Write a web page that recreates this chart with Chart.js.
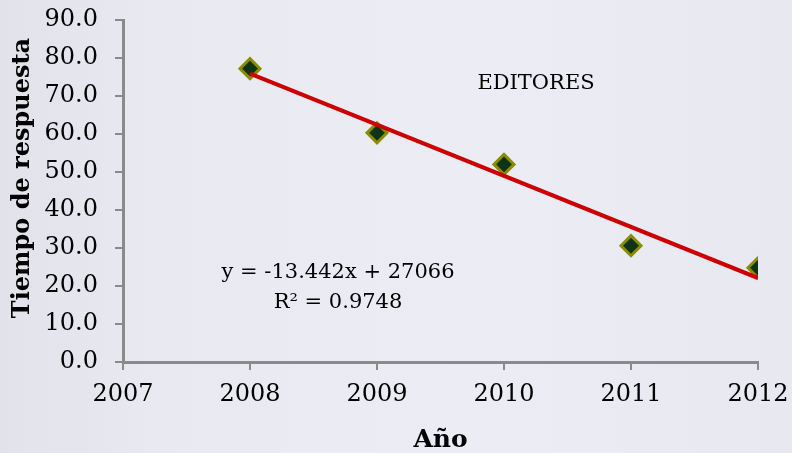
<!DOCTYPE html>
<html>
<head>
<meta charset="utf-8">
<script src="https://cdn.jsdelivr.net/npm/chart.js@4.4.1/dist/chart.umd.min.js"></script>
<style>
html,body{margin:0;padding:0;background:#e9e9f2;}
#wrap{width:792px;height:453px;background:linear-gradient(90deg,#e2e2ea 0%,#e9e9f2 20%,#ececf5 60%,#e8e8f1 100%);}
canvas{display:block;}
</style>
</head>
<body>
<div id="wrap"><canvas id="c" width="792" height="453"></canvas></div>
<script>
// Data
const years = [2008, 2009, 2010, 2011, 2012];
const tiempos = [77.2, 60.3, 52.0, 30.6, 24.8];
const trendYears = [2008, 2012];
const trendValues = [75.9, 22.1];
const xTicks = [2007, 2008, 2009, 2010, 2011, 2012];
const yTicks = [0, 10, 20, 30, 40, 50, 60, 70, 80, 90];
const seriesLabel = "EDITORES";
const equationText = "y = -13.442x + 27066";
const r2Text = "R² = 0.9748";
const xTitle = "Año";
const yTitle = "Tiempo de respuesta";

const axisColor = "#8a8a8a";
const serif = "'DejaVu Serif', serif";

const textPlugin = {
  id: 'texts',
  afterDraw(chart) {
    const ctx = chart.ctx;
    const ca = chart.chartArea;
    ctx.save();
    ctx.fillStyle = "#000";
    // y title
    ctx.save();
    ctx.translate(23, 178);
    ctx.rotate(-Math.PI / 2);
    ctx.font = "bold 24px " + serif;
    ctx.textAlign = "center";
    ctx.textBaseline = "middle";
    ctx.fillText(yTitle, 0, 0);
    ctx.restore();
    // x title
    ctx.font = "bold 25px " + serif;
    ctx.textAlign = "center";
    ctx.textBaseline = "alphabetic";
    ctx.fillText(xTitle, (ca.left + ca.right) / 2, 447);
    // series label
    ctx.font = "21px " + serif;
    ctx.fillText(seriesLabel, 536, 89);
    // equation
    ctx.font = "21px " + serif;
    ctx.fillText(equationText, 338, 278);
    ctx.fillText(r2Text, 338, 308);
    ctx.restore();
  }
};

new Chart(document.getElementById('c'), {
  type: 'scatter',
  data: {
    datasets: [
      {
        label: 'Tendencia',
        type: 'line',
        data: trendYears.map((x, i) => ({x: x, y: trendValues[i]})),
        borderColor: '#cc0000',
        borderWidth: 4,
        pointRadius: 0,
        fill: false,
        order: 0
      },
      {
        label: seriesLabel,
        data: years.map((x, i) => ({x: x, y: tiempos[i]})),
        pointStyle: 'rectRot',
        pointRadius: 10,
        pointHoverRadius: 10,
        backgroundColor: '#0e3317',
        borderColor: '#8c8c00',
        borderWidth: 3,
        order: 1
      }
    ]
  },
  options: {
    responsive: false,
    animation: false,
    events: [],
    layout: { padding: { top: 20, right: 34, left: 0, bottom: 0 } },
    plugins: { legend: { display: false }, tooltip: { enabled: false } },
    scales: {
      x: {
        type: 'linear',
        min: xTicks[0],
        max: xTicks[xTicks.length - 1],
        afterBuildTicks(scale) { scale.ticks = xTicks.map(v => ({value: v})); },
        afterFit(scale) { scale.height = 91; scale.paddingLeft = 0; scale.paddingRight = 0; },
        ticks: {
          callback: v => String(v),
          color: '#000',
          font: { family: serif, size: 24 },
          padding: 10,
          maxRotation: 0
        },
        grid: { drawOnChartArea: false, drawTicks: true, tickLength: 8, color: axisColor, lineWidth: 2 },
        border: { color: axisColor, width: 3 }
      },
      y: {
        type: 'linear',
        min: yTicks[0],
        max: yTicks[yTicks.length - 1],
        afterBuildTicks(scale) { scale.ticks = yTicks.map(v => ({value: v})); },
        afterFit(scale) { scale.width = 123; scale.paddingTop = 0; scale.paddingBottom = 0; },
        ticks: {
          callback: v => Number(v).toFixed(1),
          color: '#000',
          font: { family: serif, size: 24 },
          padding: 17
        },
        grid: { drawOnChartArea: false, drawTicks: true, tickLength: 8, color: axisColor, lineWidth: 2 },
        border: { color: axisColor, width: 3 }
      }
    }
  },
  plugins: [textPlugin]
});
</script>
</body>
</html>
